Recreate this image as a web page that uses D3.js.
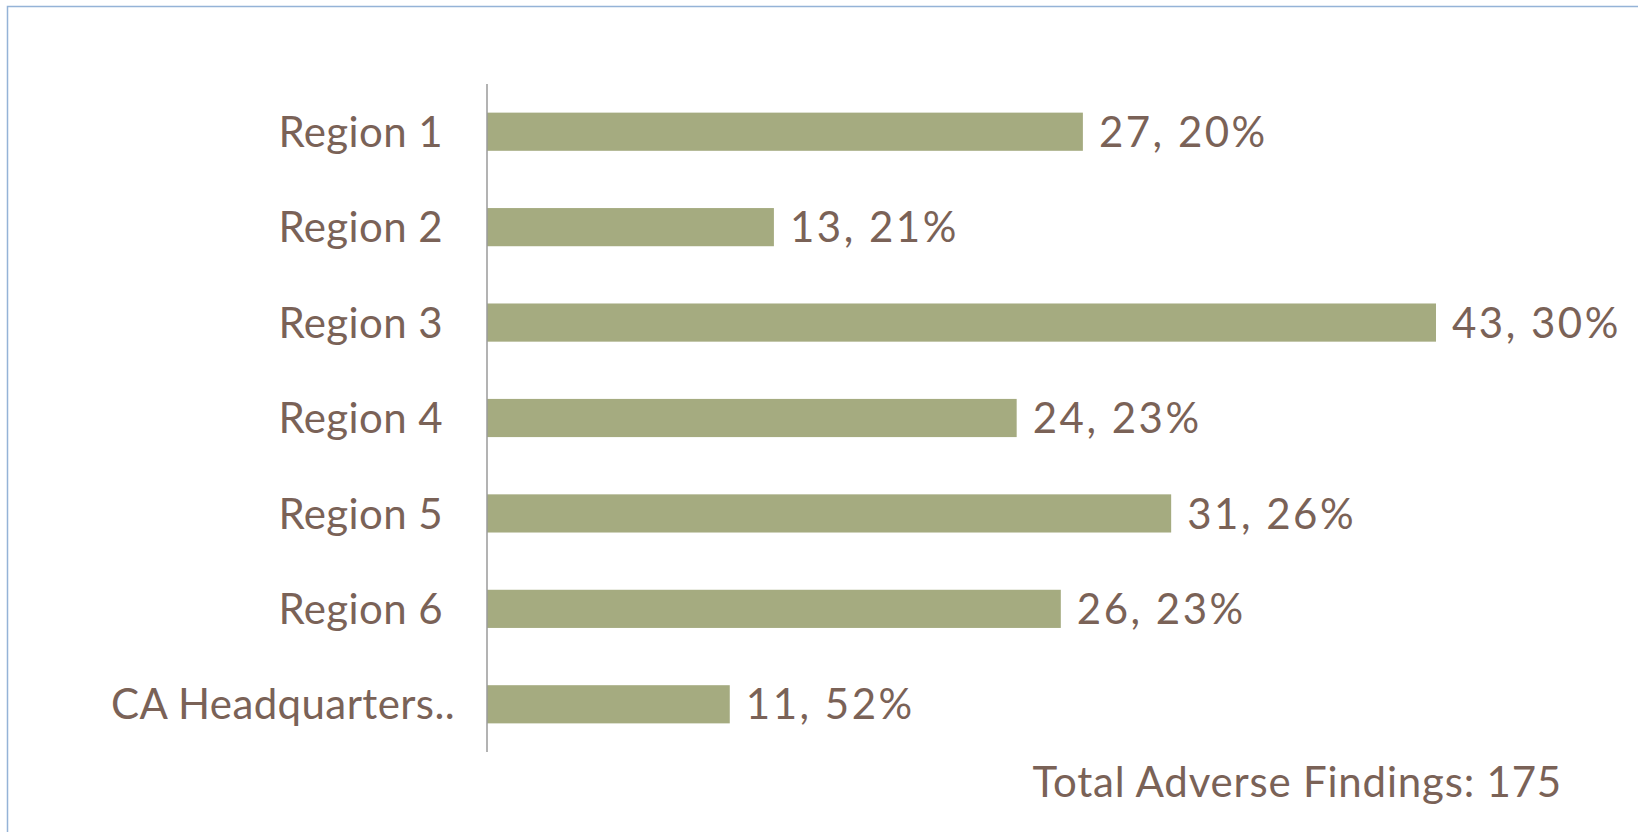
<!DOCTYPE html>
<meta charset="utf-8">
<head>
<style>
    body {margin: 0; background: #fff;}
    svg text {font-family: Lato, "Open Sans", sans-serif; fill: #7a6257;}
</style>
</head>
<body>
<div class="chart"></div>
</body>
<script src="https://d3js.org/d3.v7.min.js"></script>
<script>
var categories = ["Region 1", "Region 2", "Region 3", "Region 4", "Region 5", "Region 6", "CA Headquarters.."];
var counts = [27, 13, 43, 24, 31, 26, 11];
var percents = [20, 21, 30, 23, 26, 23, 52];
var total_text = "Total Adverse Findings: 175";

var width = 1638, height = 832;
var axis_x = 487, top_y = 84, bottom_y = 752;

var svg = d3.select(".chart").append("svg")
    .attr("width", width)
    .attr("height", height);

// frame (runs off right and bottom edges)
svg.append("rect")
    .attr("x", 7.5).attr("y", 6.5)
    .attr("width", width).attr("height", height)
    .style("fill", "none")
    .style("stroke", "#95b3d7")
    .style("stroke-width", 1.5);

var x = d3.scaleLinear().domain([0, 43]).range([axis_x, 1436]);
var y = d3.scaleBand().domain(categories).range([top_y, bottom_y])
    .paddingInner(0.6).paddingOuter(0.3);

var data = categories.map(function (c, i) {
    return {cat: c, count: counts[i], pct: percents[i]};
});

svg.selectAll(".bar").data(data).enter().append("rect")
    .attr("class", "bar")
    .attr("x", x(0))
    .attr("y", function (d) { return y(d.cat); })
    .attr("width", function (d) { return x(d.count) - x(0); })
    .attr("height", y.bandwidth())
    .style("fill", "#a5ab80");

// value labels
svg.selectAll(".val").data(data).enter().append("text")
    .attr("class", "val")
    .attr("x", function (d) { return x(d.count) + 16; })
    .attr("y", function (d) { return y(d.cat) + y.bandwidth() / 2; })
    .attr("dy", "0.36em")
    .style("font-size", "42px")
    .style("letter-spacing", "2.5px")
    .text(function (d) { return d.count + ", " + d.pct + "%"; });

// category axis
var axis = svg.append("g")
    .attr("transform", "translate(" + axis_x + ",0)")
    .call(d3.axisLeft(y).tickSize(0).tickPadding(44));
axis.select(".domain").attr("d", "M0," + top_y + "V" + bottom_y)
    .style("stroke", "#9a9a9a").style("stroke-width", 1.5);
axis.selectAll("text")
    .style("font-size", "42px")
    .style("letter-spacing", "0.4px")
    .attr("dy", "0.36em")
    .style("font-family", null)
    .each(function (d) {
        // truncated label is drawn from the left edge of the label area
        if (d.slice(-2) == "..") {
            d3.select(this).attr("text-anchor", "start").attr("x", 111 - axis_x);
        }
    });

svg.append("text")
    .attr("x", 1562)
    .attr("y", 797)
    .attr("text-anchor", "end")
    .style("font-size", "42px")
    .style("letter-spacing", "0.8px")
    .text(total_text);
</script>
</body>
